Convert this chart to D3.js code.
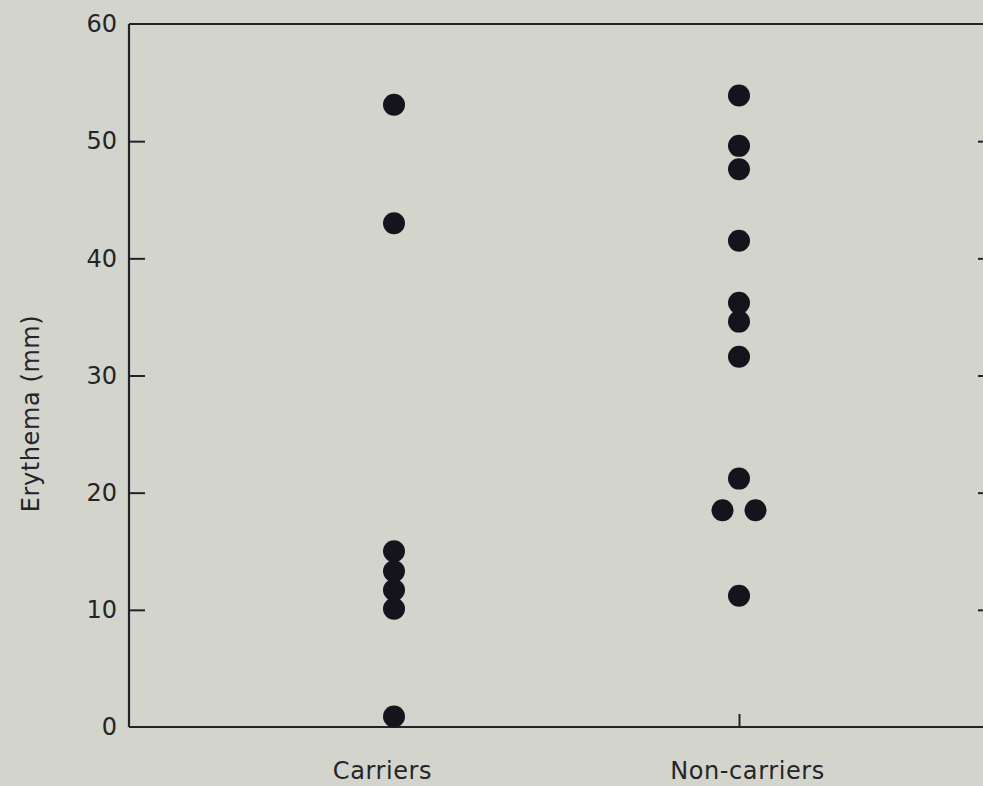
<!DOCTYPE html>
<html>
<head>
<meta charset="utf-8">
<script src="https://cdn.jsdelivr.net/npm/d3@7"></script>
<style>
  html, body { margin: 0; padding: 0; background: #d3d4cc; }
  svg { display: block; }
  text { font-family: "DejaVu Sans", sans-serif; fill: #24242a; }
</style>
</head>
<body>
<div id="chart"></div>
<script>
// Groups on the x axis
const groups = ["Carriers", "Non-carriers"];

// Erythema values (mm)
const carriers = [53.1, 43.0, 15.0, 13.3, 11.7, 10.1, 0.9];
const nonCarriers = [53.9, 49.6, 47.6, 41.5, 36.2, 34.6, 31.6, 21.2, 18.5, 18.5, 11.2];

const yTicks = [0, 10, 20, 30, 40, 50, 60];

const width = 983, height = 786;
const margin = { top: 24, right: -9, bottom: 59, left: 129 };
const plotW = width - margin.left - margin.right;
const plotH = height - margin.top - margin.bottom;

const svg = d3.select("#chart").append("svg")
    .attr("width", width)
    .attr("height", height);

const g = svg.append("g")
    .attr("transform", `translate(${margin.left},${margin.top})`);

const y = d3.scaleLinear().domain([0, 60]).range([plotH, 0]);
const x = d3.scalePoint().domain(groups).range([265, 610]);

const ink = "#222228";

// frame: left, top, bottom, right (right runs off the page)
g.append("line").attr("x1", 0).attr("x2", 0).attr("y1", 0).attr("y2", plotH)
    .attr("stroke", ink).attr("stroke-width", 2.2);
g.append("line").attr("x1", 0).attr("x2", plotW).attr("y1", 0).attr("y2", 0)
    .attr("stroke", ink).attr("stroke-width", 2.2);
g.append("line").attr("x1", 0).attr("x2", plotW).attr("y1", plotH).attr("y2", plotH)
    .attr("stroke", ink).attr("stroke-width", 2.2);
g.append("line").attr("x1", plotW).attr("x2", plotW).attr("y1", 0).attr("y2", plotH)
    .attr("stroke", ink).attr("stroke-width", 2.2);

// left axis, ticks pointing inward
const yAxis = g.append("g").call(d3.axisLeft(y).tickValues(yTicks).tickSize(-16).tickPadding(12));
yAxis.select(".domain").remove();
yAxis.selectAll(".tick line").attr("stroke", ink).attr("stroke-width", 2)
    .filter(d => d === 0 || d === 60).remove();
yAxis.selectAll(".tick text").attr("font-size", 24)
    .attr("font-family", "DejaVu Sans").attr("fill", "#24242a");

// right axis ticks, also inward
const yAxisR = g.append("g").attr("transform", `translate(${plotW},0)`)
    .call(d3.axisRight(y).tickValues(yTicks.slice(1, -1)).tickSize(-14).tickFormat(""));
yAxisR.select(".domain").remove();
yAxisR.selectAll(".tick line").attr("stroke", ink).attr("stroke-width", 2);

// bottom axis: small inward ticks, labels below
const xAxis = g.append("g").attr("transform", `translate(0,${plotH})`)
    .call(d3.axisBottom(x).tickSize(-13).tickPadding(35));
xAxis.select(".domain").remove();
xAxis.selectAll(".tick line").attr("stroke", ink).attr("stroke-width", 2);
xAxis.selectAll(".tick text").attr("font-size", 24).attr("letter-spacing", "0.6px")
    .attr("font-family", "DejaVu Sans").attr("fill", "#24242a")
    .attr("dx", d => d === groups[0] ? -12 : 8);

// y label
svg.append("text")
    .attr("transform", `translate(39,${margin.top + plotH / 2 + 38}) rotate(-90)`)
    .attr("text-anchor", "middle")
    .attr("font-size", 24)
    .attr("letter-spacing", "0.6px")
    .text("Erythema (mm)");

// build points, spreading tied values sideways
const series = [carriers, nonCarriers];
const points = [];
series.forEach((vals, gi) => {
    const byVal = d3.group(vals, v => v);
    byVal.forEach((arr, v) => {
        arr.forEach((_, i) => {
            points.push({ group: groups[gi], value: v, dx: (i - (arr.length - 1) / 2) * 33 });
        });
    });
});

g.selectAll("circle.dot")
    .data(points)
    .enter()
    .append("circle")
    .attr("class", "dot")
    .attr("cx", d => x(d.group) + d.dx)
    .attr("cy", d => y(d.value))
    .attr("r", 11)
    .attr("fill", "#15141d");
</script>
</body>
</html>
